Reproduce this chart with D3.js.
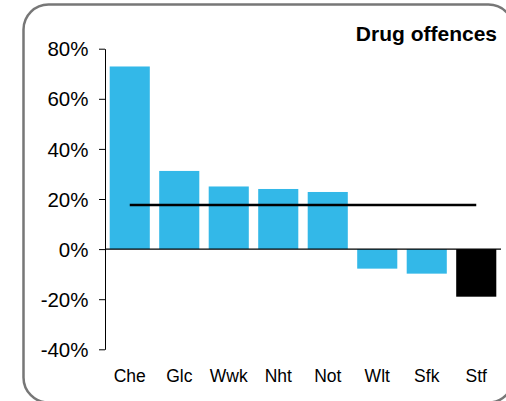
<!DOCTYPE html>
<html><head><meta charset="utf-8">
<script src="https://cdn.jsdelivr.net/npm/d3@7"></script>
<style>body{margin:0;background:#fff;}svg{display:block;font-family:"Liberation Sans",Arial,sans-serif;}</style>
</head><body>
<svg id="c" width="506" height="401"></svg>
<script>
const categories = ["Che","Glc","Wwk","Nht","Not","Wlt","Sfk","Stf"];
const values = [72.9, 31.2, 25.0, 24.0, 22.8, -7.8, -9.8, -19.0];
const highlight = ["Stf"];
const average = 17.6;
const yTicks = [-40,-20,0,20,40,60,80];
const title = "Drug offences";

const svg = d3.select("#c");
svg.append("rect").attr("x",23.5).attr("y",4.5).attr("width",490).attr("height",398)
  .attr("rx",25).attr("fill","none").attr("stroke","#777").attr("stroke-width",2.5);

const x = d3.scaleBand().domain(categories).range([105,501]).paddingInner(0.19).paddingOuter(0.095);
const y = d3.scaleLinear().domain([-40,80]).range([349.3,48.7]);

svg.selectAll("rect.bar").data(categories).enter().append("rect").attr("class","bar")
  .attr("x",d=>x(d)).attr("width",x.bandwidth())
  .attr("y",(d,i)=>y(Math.max(0,values[i])))
  .attr("height",(d,i)=>Math.abs(y(values[i])-y(0)))
  .attr("fill",d=>highlight.includes(d)?"#000":"#33b8e8");

const yAxis = d3.axisLeft(y).tickValues(yTicks).tickFormat(d=>d+"%").tickSize(6).tickSizeOuter(0);
const ga = svg.append("g").attr("transform","translate(105,0)").call(yAxis);
ga.select(".domain").attr("stroke","#000");
ga.selectAll("text").attr("font-size",20.5).attr("fill","#000").attr("dx",-7.5).attr("dy","0.35em");
ga.selectAll(".tick line").attr("stroke","#000");

svg.append("line").attr("x1",105).attr("x2",501).attr("y1",y(0)).attr("y2",y(0))
  .attr("stroke","#000").attr("stroke-width",1.2);

svg.append("line")
  .attr("x1",x(categories[0])+x.bandwidth()/2)
  .attr("x2",x(categories[categories.length-1])+x.bandwidth()/2)
  .attr("y1",y(average)).attr("y2",y(average))
  .attr("stroke","#000").attr("stroke-width",2.5);

svg.selectAll("text.cat").data(categories).enter().append("text").attr("class","cat")
  .attr("x",d=>x(d)+x.bandwidth()/2).attr("y",382)
  .attr("text-anchor","middle").attr("font-size",17.5).text(d=>d);

svg.append("text").attr("x",497).attr("y",41).attr("text-anchor","end")
  .attr("font-size",21).attr("font-weight","bold").text(title);
</script>
</body></html>
